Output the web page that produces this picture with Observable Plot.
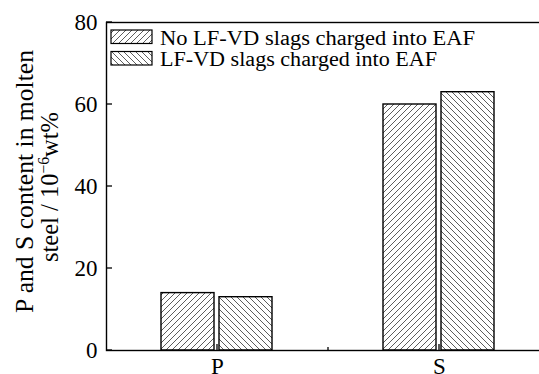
<!DOCTYPE html>
<html><head><meta charset="utf-8">
<script src="https://cdn.jsdelivr.net/npm/d3@7"></script>
<script src="https://cdn.jsdelivr.net/npm/@observablehq/plot@0.6"></script>
<style>html,body{margin:0;padding:0;overflow:hidden;background:#fff}#chart svg{max-width:none !important;display:block}</style>
</head><body><div id="chart"></div>
<script>
const categories = ["P", "S"];
const seriesNames = ["No LF-VD slags charged into EAF", "LF-VD slags charged into EAF"];
const noSlagValues = [14, 60];
const slagValues = [13, 63];
const yTicks = [0, 20, 40, 60, 80];
const yLabelLine1 = "P and S content in molten";
const yLabelLine2 = ["steel / 10", "\u22126", "wt%"];

const data = categories.flatMap((c, i) => [
  {category: c, series: seriesNames[0], value: noSlagValues[i]},
  {category: c, series: seriesNames[1], value: slagValues[i]}
]);

const font = "'Liberation Serif', 'Times New Roman', serif";
const plot = Plot.plot({
  width: 550, height: 374,
  marginLeft: 106, marginRight: 0, marginTop: 22, marginBottom: 24,
  style: {fontFamily: font, fontSize: "23px", color: "#000", background: "#fff", maxWidth: "none"},
  x: {domain: categories, padding: 0, tickSize: 0, tickPadding: 7, label: null},
  y: {domain: [0, 80], ticks: yTicks, tickSize: 0, tickPadding: 9, label: null},
  marks: [
    Plot.rectY(data.filter(d => d.series === seriesNames[0]), {x: "category", y: "value", fill: "url(#hatchA)", stroke: "#000", strokeWidth: 1.4, insetLeft: 55, insetRight: 114}),
    Plot.rectY(data.filter(d => d.series === seriesNames[1]), {x: "category", y: "value", fill: "url(#hatchB)", stroke: "#000", strokeWidth: 1.4, insetLeft: 113, insetRight: 56}),
    Plot.frame({stroke: "#000", strokeWidth: 1.4})
  ]
});
document.getElementById("chart").appendChild(plot);

const svg = d3.select(plot);
const defs = svg.insert("defs", ":first-child");
function hatch(id, up) {
  const p = defs.append("pattern").attr("id", id).attr("patternUnits", "userSpaceOnUse").attr("width", 6).attr("height", 6);
  p.append("rect").attr("width", 6).attr("height", 6).attr("fill", "#fff");
  p.append("path")
    .attr("d", up ? "M-1,1 l2,-2 M0,6 l6,-6 M5,7 l2,-2" : "M-1,5 l2,2 M0,0 l6,6 M5,-1 l2,2")
    .attr("stroke", "#333").attr("stroke-width", 0.8).attr("fill", "none");
}
hatch("hatchA", true);
hatch("hatchB", false);

const xs = plot.scale("x"), ys = plot.scale("y");
const x0 = 106, y0 = ys.apply(0);
const g = svg.append("g").attr("stroke", "#000").attr("stroke-width", 1.3);
yTicks.forEach(t => {
  const yy = ys.apply(t);
  g.append("line").attr("x1", x0).attr("x2", x0 + 6).attr("y1", yy).attr("y2", yy);
});
categories.forEach((c, i) => {
  const cx = xs.apply(c) + xs.bandwidth / 2;
  g.append("line").attr("x1", cx).attr("x2", cx).attr("y1", y0).attr("y2", y0 - 6);
  if (i > 0) {
    const bx = xs.apply(c);
    g.append("line").attr("x1", bx).attr("x2", bx).attr("y1", y0).attr("y2", y0 - 3);
  }
});

// legend
const leg = svg.append("g").style("font-family", font).attr("text-anchor", "start");
const legY = [30, 51.5];
seriesNames.forEach((s, i) => {
  leg.append("rect").attr("x", 111).attr("y", legY[i]).attr("width", 41).attr("height", 13.5)
    .attr("fill", i === 0 ? "url(#hatchA)" : "url(#hatchB)").attr("stroke", "#000").attr("stroke-width", 1.2);
  leg.append("text").attr("x", 160).attr("y", legY[i] + 14.8).attr("font-size", 20)
    .attr("textLength", i === 0 ? 315 : 277).attr("lengthAdjust", "spacingAndGlyphs").text(s);
});

// y label
const yl = svg.append("g").style("font-family", font).attr("font-size", 25).attr("text-anchor", "middle");
yl.append("text").attr("transform", "translate(33,181.5) rotate(-90)")
  .attr("textLength", 263).attr("lengthAdjust", "spacingAndGlyphs").text(yLabelLine1);
const t2 = yl.append("text").attr("transform", "translate(58,187) rotate(-90)")
  .attr("textLength", 150).attr("lengthAdjust", "spacingAndGlyphs");
t2.append("tspan").text(yLabelLine2[0]);
t2.append("tspan").attr("font-size", 16).attr("dy", -9).text(yLabelLine2[1]);
t2.append("tspan").attr("dy", 9).text(yLabelLine2[2]);
</script>
</body></html>
